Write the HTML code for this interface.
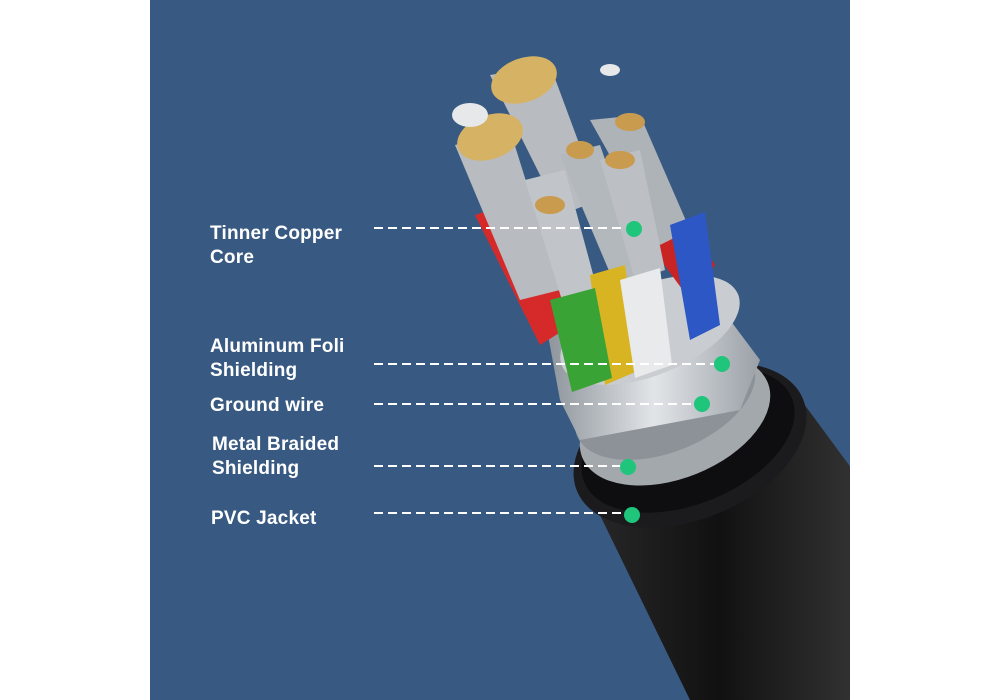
<!DOCTYPE html>
<html><head><meta charset="utf-8"><style>
html,body{margin:0;padding:0;background:#fff;}
body{width:1000px;height:700px;position:relative;overflow:hidden;font-family:"Liberation Sans",sans-serif;}
.panel{position:absolute;left:150px;top:0;width:700px;height:700px;background:#385a82;}
.t{position:absolute;color:#fff;font-size:19px;font-weight:bold;line-height:24px;letter-spacing:0.2px;}
</style></head><body>
<div class="panel"></div>
<svg width="1000" height="700" style="position:absolute;left:0;top:0">
<defs>
<linearGradient id="jk" x1="0" y1="0" x2="1" y2="0"><stop offset="0" stop-color="#2a2a2c"/><stop offset="0.5" stop-color="#111"/><stop offset="1" stop-color="#333"/></linearGradient>
<linearGradient id="sv" x1="0" y1="0" x2="1" y2="0"><stop offset="0" stop-color="#8d949b"/><stop offset="0.5" stop-color="#e2e5e8"/><stop offset="1" stop-color="#9aa0a6"/></linearGradient>
<clipPath id="pc"><rect x="150" y="0" width="700" height="700"/></clipPath>
</defs>
<g clip-path="url(#pc)">
<!-- jacket body -->
<polygon points="578,470 790,385 860,480 860,700 690,700" fill="url(#jk)"/>
<ellipse cx="690" cy="445" rx="122" ry="74" transform="rotate(-22 690 445)" fill="#1b1b1d"/>
<ellipse cx="688" cy="440" rx="112" ry="64" transform="rotate(-22 688 440)" fill="#0e0e10"/>
<!-- braid -->
<ellipse cx="675" cy="420" rx="100" ry="58" transform="rotate(-22 675 420)" fill="#a3a8ad"/>
<ellipse cx="665" cy="400" rx="95" ry="52" transform="rotate(-22 665 400)" fill="#8c9297"/>
<!-- foil -->
<polygon points="548,335 700,280 760,360 740,410 580,440 560,400" fill="url(#sv)"/>
<ellipse cx="650" cy="330" rx="95" ry="45" transform="rotate(-22 650 330)" fill="#c9cdd1"/>
<!-- red big -->
<polygon points="475,215 520,200 580,320 540,345" fill="#d62a2a"/>
<polygon points="595,170 640,155 715,265 690,300" fill="#c82424"/>
<!-- silver strands -->
<polygon points="455,145 510,130 560,290 520,300" fill="#b8bcc1"/>
<polygon points="490,75 550,65 600,200 560,215" fill="#b8bcc1"/>
<polygon points="590,120 640,115 690,230 660,245" fill="#aeb3b8"/>
<polygon points="525,180 565,170 600,300 565,310" fill="#c1c5c9"/>
<polygon points="560,155 600,145 645,275 615,285" fill="#b3b8bd"/>
<polygon points="600,160 640,150 665,270 635,280" fill="#bcc0c5"/>
<!-- colored insulation -->
<polygon points="670,225 705,212 720,325 690,340" fill="#2d57c4"/>
<polygon points="590,275 625,265 640,370 605,385" fill="#d9b422"/>
<polygon points="620,280 660,268 672,365 635,378" fill="#e8eaec"/>
<polygon points="550,300 595,288 612,378 572,392" fill="#3aa335"/>
<!-- copper ends -->
<ellipse cx="490" cy="137" rx="34" ry="22" transform="rotate(-20 490 137)" fill="#d6b264"/>
<ellipse cx="524" cy="80" rx="34" ry="22" transform="rotate(-20 524 80)" fill="#d6b264"/>
<ellipse cx="470" cy="115" rx="18" ry="12" fill="#e6e8ea"/>
<ellipse cx="550" cy="205" rx="15" ry="9" fill="#c99b4f"/>
<ellipse cx="620" cy="160" rx="15" ry="9" fill="#c99b4f"/>
<ellipse cx="630" cy="122" rx="15" ry="9" fill="#c99b4f"/>
<ellipse cx="580" cy="150" rx="14" ry="9" fill="#c99b4f"/>
<ellipse cx="610" cy="70" rx="10" ry="6" fill="#e6e8ea"/>
</g>
<!-- leader lines -->
<g stroke="#fff" stroke-width="2" stroke-dasharray="9,5">
<line x1="374" y1="228" x2="632" y2="228"/>
<line x1="374" y1="364" x2="720" y2="364"/>
<line x1="374" y1="404" x2="700" y2="404"/>
<line x1="374" y1="466" x2="628" y2="466"/>
<line x1="374" y1="513" x2="632" y2="513"/>
</g>
<g fill="#1fc57a">
<circle cx="634" cy="229" r="8"/>
<circle cx="722" cy="364" r="8"/>
<circle cx="702" cy="404" r="8"/>
<circle cx="628" cy="467" r="8"/>
<circle cx="632" cy="515" r="8"/>
</g>
</svg>
<div class="t" style="left:210px;top:222px">Tinner Copper<br>Core</div>
<div class="t" style="left:210px;top:335px">Aluminum Foli<br>Shielding</div>
<div class="t" style="left:210px;top:394px">Ground wire</div>
<div class="t" style="left:212px;top:433px">Metal Braided<br>Shielding</div>
<div class="t" style="left:211px;top:507px">PVC Jacket</div>
</body></html>
